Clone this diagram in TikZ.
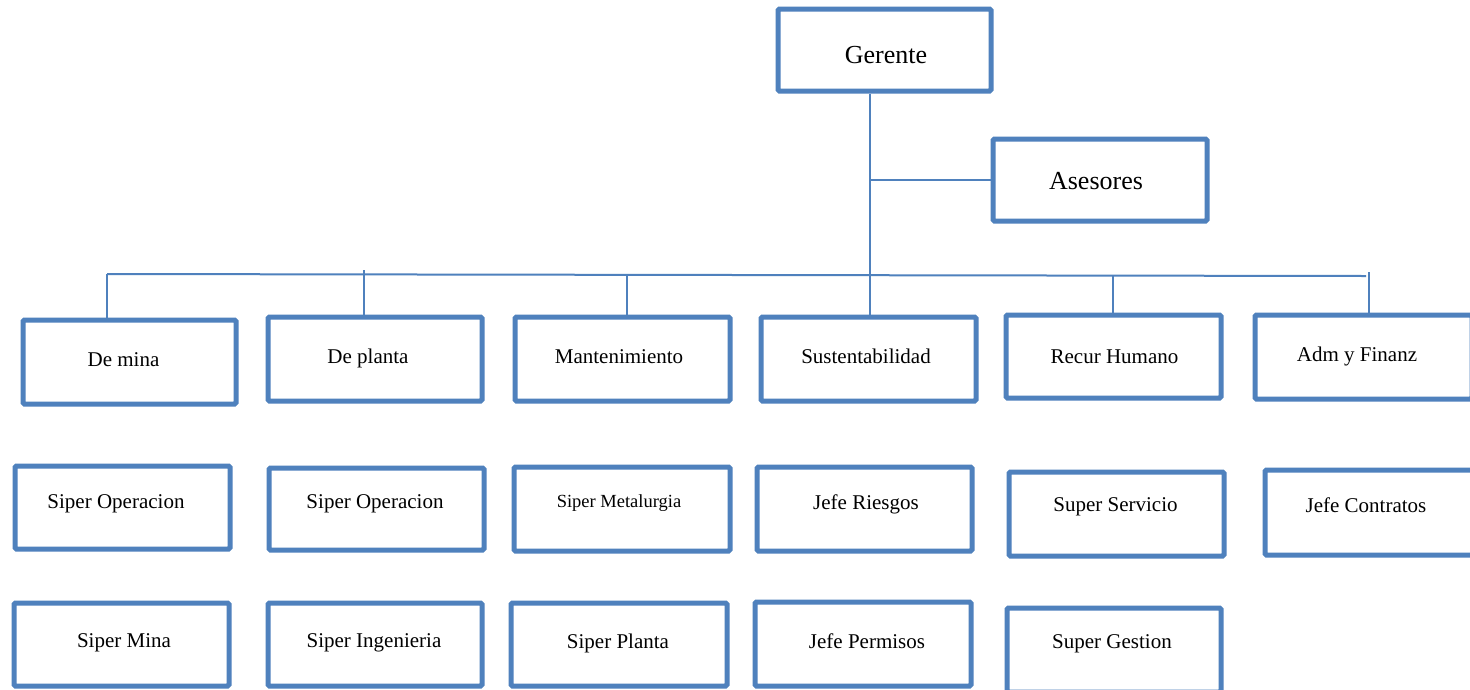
\documentclass[tikz,border=0pt]{standalone}
\usepackage{fontspec}
\setmainfont{Liberation Serif}
\definecolor{orgblue}{RGB}{79,129,189}
\tikzset{
  x=1pt, y=-1pt,
  orgbox/.style={draw=orgblue, line width=5pt, fill=white, rounded corners=1.5pt, inner sep=0pt},
  link/.style={draw=orgblue, line width=2pt},
  lbl/.style={anchor=base, inner sep=0pt, text=black}
}
% unit box given by the centre line of its frame: name, x1, y1, x2, y2
\newcommand\unitbox[5]{%
  \node[orgbox, minimum width={(#4)-(#2)}, minimum height={(#5)-(#3)}]
    (#1) at ({((#2)+(#4))/2},{((#3)+(#5))/2}) {};}
% label on its baseline: name, x, y, size, text
\newcommand\unitlabel[5]{%
  \node[lbl, font=\fontsize{#4}{#4}\selectfont] (#1) at (#2,#3) {#5};}
\begin{document}
\begin{tikzpicture}
\clip (0,0) rectangle (1470,689);
\fill[white] (0,0) rectangle (1470,689);

% top level
\unitbox{ger}{778}{9}{991}{91}
\unitbox{ases}{993}{139}{1207}{221}

% departments
\unitbox{mina}{23}{320}{236}{404}
\unitbox{planta}{268}{317}{482}{401}
\unitbox{mant}{515}{317}{730}{401}
\unitbox{sust}{761}{317}{976}{401}
\unitbox{rrhh}{1006}{315}{1221}{398}
\unitbox{adm}{1255}{315}{1472}{399}

% second row
\unitbox{sop1}{15}{466}{230}{549}
\unitbox{sop2}{269}{468}{484}{550}
\unitbox{smet}{514}{467}{730}{551}
\unitbox{jries}{757}{467}{972}{551}
\unitbox{sserv}{1009}{472}{1224}{556}
\unitbox{jcont}{1265}{470}{1482}{555}

% third row
\unitbox{smina}{14}{603}{229}{686}
\unitbox{sing}{268}{603}{482}{686}
\unitbox{splan}{511}{603}{727}{686}
\unitbox{jperm}{755}{602}{971}{686}
\unitbox{sgest}{1007}{608}{1221}{692}

% connectors
\coordinate (trunk) at (870,275);
\coordinate (busL) at (107,274);
\coordinate (busR) at (1366,276);
\coordinate (dPlanta) at (364,270);
\coordinate (dMant) at (627,275);
\coordinate (dRrhh) at (1113,276);
\coordinate (dAdm) at (1369,272);

\draw[link] (ger.south -| trunk) -- (sust.north -| trunk);
\draw[link] (ases.west) -- (ases.west -| trunk);
\draw[link] (busL) -- (busR);
\draw[link] (busL) -- (busL |- mina.north);
\draw[link] (dPlanta) -- (dPlanta |- planta.north);
\draw[link] (dMant) -- (dMant |- mant.north);
\draw[link] (dRrhh) -- (dRrhh |- rrhh.north);
\draw[link] (dAdm) -- (dAdm |- adm.north);

% labels
\unitlabel{ger-t}{886}{63}{26}{Gerente}
\unitlabel{ases-t}{1096}{189}{26}{Asesores}

\unitlabel{mina-t}{123.5}{366}{21}{De mina}
\unitlabel{planta-t}{368}{363}{21}{De planta}
\unitlabel{mant-t}{619}{363}{21}{Mantenimiento}
\unitlabel{sust-t}{866}{363}{21}{Sustentabilidad}
\unitlabel{rrhh-t}{1114.5}{363}{21}{Recur Humano}
\unitlabel{adm-t}{1357}{361}{21}{Adm y Finanz}

\unitlabel{sop1-t}{116}{508}{21}{Siper Operacion}
\unitlabel{sop2-t}{375}{508}{21}{Siper Operacion}
\unitlabel{smet-t}{619}{507}{18.5}{Siper Metalurgia}
\unitlabel{jries-t}{866}{509}{21}{Jefe Riesgos}
\unitlabel{sserv-t}{1115.5}{511}{21}{Super Servicio}
\unitlabel{jcont-t}{1366}{512}{21}{Jefe Contratos}

\unitlabel{smina-t}{124}{647}{21}{Siper Mina}
\unitlabel{sing-t}{374}{647}{21}{Siper Ingenieria}
\unitlabel{splan-t}{618}{648}{21}{Siper Planta}
\unitlabel{jperm-t}{867}{648}{21}{Jefe Permisos}
\unitlabel{sgest-t}{1112}{648}{21}{Super Gestion}
\end{tikzpicture}
\end{document}
